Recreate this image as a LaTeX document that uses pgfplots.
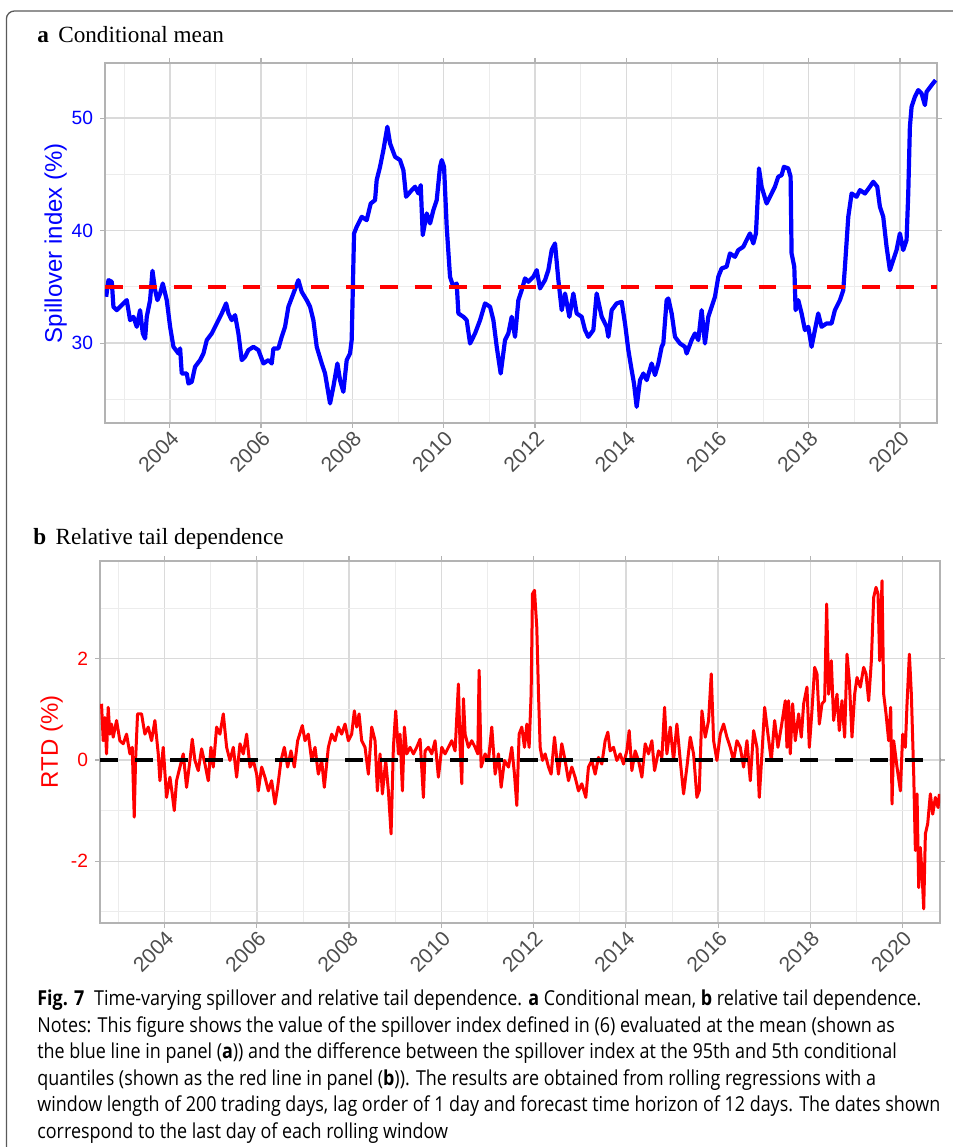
\documentclass[border=0pt]{standalone}
\usepackage{fontspec}
\setmainfont{Liberation Serif}
\setsansfont{Liberation Sans}
\newfontfamily\capfont{Open Sans}
\usepackage{pgfplots}
\pgfplotsset{compat=1.18}
\definecolor{gridmaj}{HTML}{DADADA}
\definecolor{gridmin}{HTML}{ECECEC}
\definecolor{frameg}{HTML}{B3B3B3}
\definecolor{tickg}{HTML}{4D4D4D}
\definecolor{boxg}{HTML}{5A5A5A}
\newsavebox\capbox
\newcommand\capsize{\capfont\fontsize{10.3}{12}\selectfont}
\newcommand\capone{\textbf{Fig. 7}\hspace{0.55em}Time-varying spillover and relative tail dependence. \textbf{a} Conditional mean, \textbf{b} relative tail dependence.}
\pgfplotsset{
  gg/.style={
    scale only axis,
    axis line style={frameg, line width=0.7pt},
    grid=both,
    major grid style={gridmaj, line width=0.7pt},
    minor grid style={gridmin, line width=0.45pt},
    tick align=outside,
    major tick length=2.5pt,
    minor tick length=0pt,
    tick style={frameg, line width=0.6pt},
    xtick={2004,2006,2008,2010,2012,2014,2016,2018,2020},
    xticklabels={2004,2006,2008,2010,2012,2014,2016,2018,2020},
    minor xtick={2003,2005,2007,2009,2011,2013,2015,2017,2019},
    xticklabel style={font=\sffamily\fontsize{10.5}{12}\selectfont, text=tickg, rotate=45, anchor=north east, inner sep=0.5pt},
    yticklabel style={font=\sffamily\fontsize{9.6}{11}\selectfont},
    ylabel style={font=\sffamily\fontsize{12}{14}\selectfont, inner sep=0pt},
    /pgf/number format/assume math mode=true,
  }
}
\begin{document}%
\sbox\capbox{\capsize\capone}%
\pgfmathsetmacro\capsx{442/\the\wd\capbox}%
\begin{tikzpicture}
\useasboundingbox (0,0) rectangle (476.5pt,573.5pt);
\draw[boxg, line width=0.65pt, rounded corners=4pt] (3.2pt,-10pt) -- (3.2pt,568pt) -- (490pt,568pt);
\node[anchor=base west, inner sep=0pt, font=\fontsize{11.6}{13}\selectfont] at (18.5pt,552pt) {\textbf{a}\hspace{0.4em}Conditional mean};
\node[anchor=base west, inner sep=0pt, font=\fontsize{11.6}{13}\selectfont] at (16.5pt,301pt) {\textbf{b}\hspace{0.4em}Relative tail dependence};

\begin{axis}[gg, at={(52.5pt,362pt)}, anchor=south west, width=416pt, height=180pt,
  xmin=2002.58, xmax=2020.81, ymin=22.9, ymax=54.9,
  ytick={30,40,50}, yticklabels={30,40,50}, minor ytick={25,35,45},
  yticklabel style={text=blue},
  ylabel={Spillover index (\%)},
  ylabel style={text=blue, at={(axis description cs:-0.0517,0.5)}, anchor=base}]
\addplot[blue, line width=2.1pt, line join=round] coordinates {
(2002.605,34.12) (2002.656,35.60) (2002.729,35.45) (2002.765,33.23) (2002.838,32.93) (2002.984,33.53) (2003.057,33.82) (2003.130,32.04) (2003.203,32.34) (2003.276,31.45) (2003.349,32.93) (2003.408,30.86) (2003.459,30.41) (2003.495,32.34) (2003.568,33.82) (2003.620,36.43) (2003.678,34.71) (2003.729,33.82) (2003.787,34.41) (2003.846,35.30) (2003.933,33.82) (2004.007,31.45) (2004.080,29.67) (2004.189,29.08) (2004.226,29.53) (2004.262,27.30) (2004.372,27.30) (2004.408,26.41) (2004.481,26.56) (2004.554,27.90) (2004.664,28.49) (2004.737,29.08) (2004.810,30.27) (2004.920,30.86) (2005.029,31.75) (2005.139,32.64) (2005.234,33.53) (2005.285,32.64) (2005.358,32.04) (2005.430,32.49) (2005.503,30.86) (2005.576,28.49) (2005.649,28.79) (2005.722,29.38) (2005.832,29.67) (2005.941,29.38) (2006.051,28.19) (2006.160,28.49) (2006.233,28.19) (2006.270,29.53) (2006.379,29.53) (2006.452,30.56) (2006.525,31.45) (2006.598,33.23) (2006.708,34.41) (2006.817,35.60) (2006.890,34.56) (2007.000,33.82) (2007.073,33.23) (2007.146,32.04) (2007.219,29.67) (2007.329,28.19) (2007.402,27.30) (2007.475,25.53) (2007.511,24.64) (2007.584,26.12) (2007.672,28.19) (2007.730,26.71) (2007.803,25.67) (2007.876,28.49) (2007.949,29.08) (2007.985,30.27) (2008.037,39.75) (2008.095,40.34) (2008.205,41.23) (2008.314,40.93) (2008.402,42.41) (2008.497,42.71) (2008.533,44.49) (2008.606,45.67) (2008.680,47.16) (2008.767,49.23)
(2008.826,47.75) (2008.936,46.56) (2009.045,46.27) (2009.118,45.38) (2009.177,43.01) (2009.301,43.60) (2009.374,43.90) (2009.447,43.30) (2009.498,44.04) (2009.542,39.60) (2009.629,41.53) (2009.702,40.64) (2009.775,41.82) (2009.848,42.71) (2009.921,45.67) (2009.958,46.27) (2010.009,45.67) (2010.067,40.34) (2010.140,35.90) (2010.213,35.01) (2010.286,35.30) (2010.323,32.64) (2010.432,32.34) (2010.505,32.04) (2010.579,29.97) (2010.688,30.86) (2010.798,32.04) (2010.907,33.53) (2011.017,33.23) (2011.090,32.04) (2011.163,29.67) (2011.250,27.30) (2011.345,30.27) (2011.418,30.86) (2011.491,32.34) (2011.564,30.56) (2011.637,33.82) (2011.710,34.71) (2011.783,35.75) (2011.856,35.45) (2011.966,35.90) (2012.039,36.49) (2012.112,34.86) (2012.221,35.60) (2012.294,36.49) (2012.367,38.27) (2012.440,38.86) (2012.514,35.60) (2012.587,32.93) (2012.660,34.41) (2012.755,32.34) (2012.842,34.41) (2012.915,32.64) (2013.025,32.34) (2013.098,31.16) (2013.171,30.56) (2013.280,31.16) (2013.353,34.41) (2013.463,32.34) (2013.572,31.45) (2013.609,30.56) (2013.682,32.93) (2013.791,33.53) (2013.901,33.67) (2013.974,31.75) (2014.047,29.38) (2014.120,27.60) (2014.171,26.41) (2014.229,24.34) (2014.303,26.71) (2014.376,27.30) (2014.449,26.71) (2014.558,28.19) (2014.631,27.16) (2014.704,28.19) (2014.777,29.67)
(2014.813,29.97) (2014.886,33.82) (2014.923,33.97) (2014.996,32.64) (2015.069,30.56) (2015.178,29.97) (2015.288,29.67) (2015.324,29.08) (2015.434,30.27) (2015.507,30.86) (2015.580,30.27) (2015.653,32.93) (2015.726,29.97) (2015.799,32.34) (2015.872,33.23) (2015.945,34.12) (2016.018,35.90) (2016.091,36.64) (2016.200,36.79) (2016.273,37.97) (2016.383,37.67) (2016.456,38.27) (2016.565,38.56) (2016.638,39.16) (2016.712,39.75) (2016.785,38.86) (2016.843,39.75) (2016.894,43.90) (2016.909,45.53) (2016.967,43.90) (2017.077,42.41) (2017.186,43.30) (2017.259,43.90) (2017.332,44.79) (2017.405,44.93) (2017.456,45.67) (2017.551,45.53) (2017.602,44.79) (2017.624,37.97) (2017.683,36.79) (2017.712,32.93) (2017.770,33.82) (2017.843,32.64) (2017.916,31.16) (2017.989,31.45) (2018.062,29.67) (2018.135,31.16) (2018.208,32.64) (2018.281,31.45) (2018.391,31.75) (2018.500,31.75) (2018.573,32.93) (2018.683,33.82) (2018.756,34.71) (2018.793,36.79) (2018.866,41.23) (2018.939,43.30) (2019.048,43.01) (2019.121,43.60) (2019.231,43.30) (2019.340,43.90) (2019.413,44.34) (2019.501,43.90) (2019.559,42.12) (2019.632,41.23) (2019.705,38.56) (2019.778,36.49) (2019.851,37.38) (2019.924,38.27) (2019.997,39.75) (2020.070,38.27) (2020.143,39.16) (2020.180,43.30) (2020.216,49.23) (2020.253,51.01) (2020.326,51.90) (2020.399,52.49) (2020.472,52.19) (2020.545,51.16) (2020.582,52.34) (2020.691,52.93) (2020.779,53.38)
};
\addplot[red, line width=2pt, dash pattern=on 8.85pt off 8.35pt] coordinates {(2002.58,35) (2020.81,35)};
\end{axis}

\begin{axis}[gg, at={(50pt,112pt)}, anchor=south west, width=420pt, height=181pt,
  xmin=2002.6, xmax=2020.81, ymin=-3.22, ymax=3.93,
  ytick={-2,0,2}, yticklabels={-2,0,2}, minor ytick={-3,-1,1,3},
  yticklabel style={text=red},
  ylabel={RTD (\%)},
  ylabel style={text=red, at={(axis description cs:-0.05,0.5)}, anchor=base}]
\addplot[red, line width=1.5pt, line join=round] coordinates {
(2002.633,1.11) (2002.670,0.38) (2002.706,0.84) (2002.742,0.12) (2002.778,1.04) (2002.814,0.51) (2002.850,0.71) (2002.886,0.45) (2002.959,0.78) (2003.031,0.38) (2003.103,0.32) (2003.176,0.51) (2003.248,0.12) (2003.299,0.25) (2003.342,-1.13) (2003.371,-0.01) (2003.414,0.91) (2003.501,0.91) (2003.573,0.51) (2003.646,0.65) (2003.718,0.38) (2003.790,0.78) (2003.863,0.12) (2003.899,-0.41) (2003.971,0.25) (2004.043,-0.74) (2004.116,-0.34) (2004.166,-0.67) (2004.210,-1.00) (2004.260,-0.41) (2004.333,-0.14) (2004.405,0.12) (2004.477,-0.54) (2004.550,-0.01) (2004.600,0.41) (2004.658,-0.01) (2004.730,-0.21) (2004.803,0.22) (2004.875,-0.08) (2004.947,-0.41) (2005.005,0.25) (2005.056,-0.14) (2005.128,0.65) (2005.200,0.51) (2005.273,0.91) (2005.345,0.25) (2005.417,-0.01) (2005.490,0.25) (2005.562,-0.34) (2005.634,0.32) (2005.706,0.12) (2005.779,0.51) (2005.851,-0.14) (2005.923,-0.01) (2005.996,-0.28) (2006.032,-0.61) (2006.104,-0.14) (2006.176,-0.34) (2006.249,-0.61) (2006.321,-0.41) (2006.393,-0.87) (2006.451,-0.54) (2006.524,-0.01) (2006.596,0.25) (2006.668,-0.14) (2006.740,0.18) (2006.813,-0.14) (2006.885,0.38) (2006.986,0.68) (2007.044,0.38) (2007.116,0.51) (2007.189,-0.01) (2007.261,0.25) (2007.333,-0.28) (2007.406,-0.01) (2007.463,-0.54)
(2007.550,0.25) (2007.623,0.51) (2007.695,0.38) (2007.767,0.65) (2007.839,0.51) (2007.912,0.71) (2007.984,0.38) (2008.056,0.51) (2008.114,0.97) (2008.165,0.65) (2008.216,0.91) (2008.273,0.38) (2008.346,0.25) (2008.418,-0.28) (2008.490,0.65) (2008.563,0.38) (2008.613,-0.61) (2008.671,0.12) (2008.722,-0.67) (2008.794,-0.01) (2008.852,-0.61) (2008.910,-1.46) (2008.960,0.25) (2009.011,0.97) (2009.069,0.12) (2009.105,0.51) (2009.156,-0.61) (2009.199,0.65) (2009.250,0.12) (2009.322,0.25) (2009.394,0.12) (2009.466,0.25) (2009.539,0.41) (2009.611,-0.74) (2009.647,0.18) (2009.720,0.25) (2009.792,0.12) (2009.864,0.38) (2009.936,-0.34) (2010.009,0.25) (2010.081,0.12) (2010.153,0.25) (2010.226,0.38) (2010.298,0.18) (2010.370,1.50) (2010.406,0.25) (2010.443,-0.47) (2010.479,1.21) (2010.515,0.51) (2010.587,0.25) (2010.659,0.38) (2010.732,0.25) (2010.790,0.12) (2010.819,1.77) (2010.862,-0.14) (2010.949,0.12) (2011.021,-0.01) (2011.093,0.65) (2011.166,-0.28) (2011.238,0.12) (2011.296,-0.54) (2011.368,-0.01) (2011.455,-0.14) (2011.527,0.25) (2011.585,-0.28) (2011.636,-0.90) (2011.686,0.51) (2011.744,0.65) (2011.802,0.25) (2011.853,0.71) (2011.903,0.25) (2011.946,1.30) (2011.975,3.28) (2012.019,3.35) (2012.069,2.62) (2012.106,1.30) (2012.142,0.25) (2012.192,-0.01) (2012.250,0.12) (2012.323,-0.14) (2012.380,-0.28) (2012.453,0.45)
(2012.539,-0.28) (2012.611,0.32) (2012.683,-0.01) (2012.756,-0.41) (2012.828,-0.14) (2012.900,-0.34) (2012.973,-0.61) (2013.045,-0.47) (2013.132,-0.74) (2013.189,-0.14) (2013.262,-0.01) (2013.334,-0.28) (2013.406,0.05) (2013.479,-0.08) (2013.551,0.38) (2013.609,0.55) (2013.659,0.18) (2013.732,0.25) (2013.804,-0.01) (2013.876,0.12) (2013.949,-0.08) (2014.021,0.18) (2014.072,0.58) (2014.130,-0.21) (2014.202,0.18) (2014.274,-0.01) (2014.347,-0.34) (2014.419,0.32) (2014.491,0.12) (2014.564,0.38) (2014.622,-0.21) (2014.708,0.18) (2014.781,0.05) (2014.839,1.04) (2014.889,0.12) (2014.962,0.65) (2015.034,-0.01) (2015.106,0.71) (2015.179,-0.01) (2015.251,-0.67) (2015.323,-0.14) (2015.396,0.45) (2015.468,0.12) (2015.540,-0.74) (2015.591,-0.61) (2015.649,0.97) (2015.721,0.45) (2015.793,0.78) (2015.851,1.70) (2015.902,0.38) (2015.974,-0.01) (2016.046,0.51) (2016.119,0.71) (2016.191,0.45) (2016.263,0.25) (2016.335,-0.01) (2016.408,0.38) (2016.480,0.25) (2016.552,-0.14) (2016.625,0.38) (2016.697,-0.41) (2016.769,0.58) (2016.842,0.25) (2016.892,-0.74) (2016.950,0.12) (2017.008,1.04) (2017.080,0.51) (2017.152,-0.01) (2017.225,0.78) (2017.297,0.25) (2017.369,0.65)
(2017.456,1.17) (2017.492,0.25) (2017.528,1.17) (2017.564,0.12) (2017.615,1.11) (2017.673,0.38) (2017.745,0.91) (2017.803,0.45) (2017.854,1.11) (2017.926,1.44) (2017.977,0.25) (2018.034,0.97) (2018.092,1.83) (2018.143,1.70) (2018.194,0.71) (2018.251,1.11) (2018.309,1.17) (2018.353,3.08) (2018.396,1.30) (2018.454,1.96) (2018.504,0.78) (2018.577,1.30) (2018.627,0.58) (2018.685,1.17) (2018.743,0.45) (2018.794,2.09) (2018.844,1.57) (2018.902,0.45) (2018.960,1.30) (2019.011,1.63) (2019.083,1.44) (2019.155,1.83) (2019.206,1.70) (2019.264,1.17) (2019.322,1.96) (2019.372,3.21) (2019.423,3.41) (2019.466,3.28) (2019.502,1.96) (2019.553,3.54) (2019.589,1.30) (2019.640,0.91) (2019.697,0.38) (2019.741,1.04) (2019.770,-0.87) (2019.806,0.38) (2019.878,-0.14) (2019.951,-0.61) (2020.001,0.51) (2020.059,0.25) (2020.095,1.11) (2020.146,2.09) (2020.189,1.30) (2020.240,-0.28) (2020.276,-1.79) (2020.312,-0.67) (2020.348,-2.52) (2020.384,-1.73) (2020.421,-2.25) (2020.457,-2.94) (2020.493,-1.46) (2020.543,-1.26) (2020.601,-0.67) (2020.652,-1.07) (2020.710,-0.74) (2020.768,-0.94) (2020.797,-0.67)
};
\addplot[black, line width=2pt, dash pattern=on 9pt off 8.5pt] coordinates {(2002.6,0) (2020.81,0)};
\end{axis}

\begin{scope}[every node/.style={anchor=base west, inner sep=0pt, font=\capsize}]
\node at (18.5pt,70.5pt) {\scalebox{\capsx}[1]{\capone}};
\node at (18.5pt,57.25pt) {\scalebox{\capsx}[1]{Notes: This figure shows the value of the spillover index defined in (6) evaluated at the mean (shown as}};
\node at (18.5pt,44pt) {\scalebox{\capsx}[1]{the blue line in panel (\textbf{a})) and the difference between the spillover index at the 95th and 5th conditional}};
\node at (18.5pt,30.75pt) {\scalebox{\capsx}[1]{quantiles (shown as the red line in panel (\textbf{b})). The results are obtained from rolling regressions with a}};
\node at (18.5pt,17.5pt) {\scalebox{\capsx}[1]{window length of 200 trading days, lag order of 1 day and forecast time horizon of 12 days. The dates shown}};
\node at (18.5pt,4.25pt) {\scalebox{\capsx}[1]{correspond to the last day of each rolling window}};
\end{scope}
\end{tikzpicture}%
\end{document}
